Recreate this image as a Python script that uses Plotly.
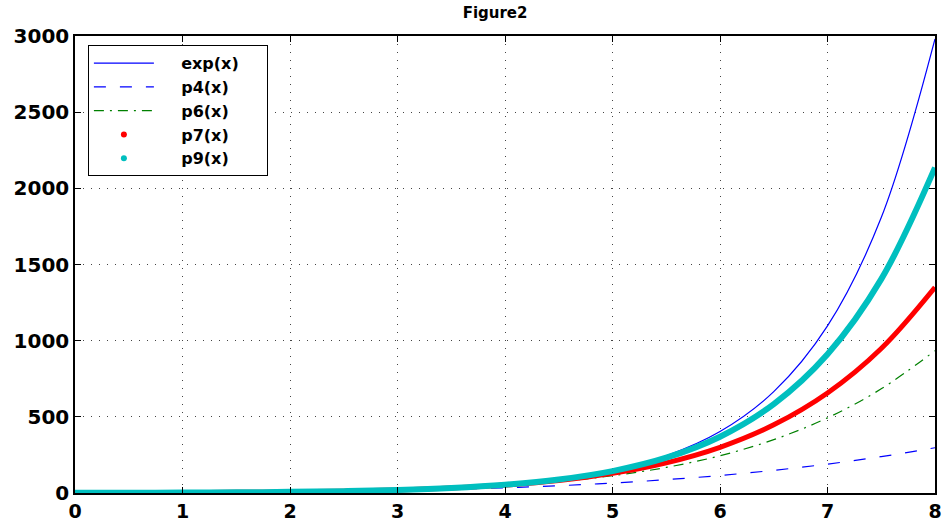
import plotly.graph_objects as go

x_vals = [0, 0.5, 1, 1.5, 2, 2.5, 3, 3.5, 4, 4.5, 5, 5.5, 6, 6.5, 7, 7.5, 8]
exp_vals = [1, 1.65, 2.72, 4.48, 7.39, 12.2, 20.1, 33.1, 54.6, 90.0, 148.4, 244.7, 403.4, 665.1, 1096.6, 1808.0, 2981.0]
p4_vals = [1, 1.65, 2.71, 4.40, 7.0, 10.86, 16.4, 24.0, 34.3, 47.9, 65.4, 87.5, 115.0, 148.8, 189.7, 238.8, 297.0]
p6_vals = [1, 1.65, 2.72, 4.48, 7.36, 12.0, 19.4, 30.9, 48.6, 74.8, 113.2, 167.9, 244.6, 350.2, 493.2, 683.7, 934.2]
p7_vals = [1, 1.65, 2.72, 4.48, 7.38, 12.1, 19.85, 32.2, 51.9, 82.2, 128.7, 198.1, 300.1, 447.5, 656.6, 948.6, 1350.3]
p9_vals = [1, 1.65, 2.72, 4.48, 7.39, 12.2, 20.07, 33.0, 54.2, 88.5, 143.8, 231.6, 369.5, 583.6, 910.8, 1403.8, 2136.0]

x_ticks = [0, 1, 2, 3, 4, 5, 6, 7, 8]
y_ticks = [0, 500, 1000, 1500, 2000, 2500, 3000]
legend_names = ["exp(x)", "p4(x)", "p6(x)", "p7(x)", "p9(x)"]

FONT = "DejaVu Sans, Liberation Sans, Arial, sans-serif"
PAD = "\u00a0" * 4
TAIL = "\u00a0" * 4

fig = go.Figure()
fig.add_trace(go.Scatter(x=x_vals, y=exp_vals, mode="lines", name=PAD + legend_names[0] + TAIL,
                         line=dict(color="#0000ff", width=1.2, shape="spline")))
fig.add_trace(go.Scatter(x=x_vals, y=p4_vals, mode="lines", name=PAD + legend_names[1] + TAIL,
                         line=dict(color="#0000ff", width=1.2, dash="12px,14px", shape="spline")))
fig.add_trace(go.Scatter(x=x_vals, y=p6_vals, mode="lines", name=PAD + legend_names[2] + TAIL,
                         line=dict(color="#008000", width=1.2, dash="10px,6px,2px,6px", shape="spline")))
fig.add_trace(go.Scatter(x=x_vals, y=p7_vals, mode="lines", showlegend=False,
                         line=dict(color="#ff0000", width=5, shape="spline")))
fig.add_trace(go.Scatter(x=x_vals, y=p9_vals, mode="lines", showlegend=False,
                         line=dict(color="#00bfbf", width=6, shape="spline")))
fig.add_trace(go.Scatter(x=[None], y=[None], mode="markers", name=PAD + legend_names[3] + TAIL,
                         marker=dict(color="#ff0000", size=6)))
fig.add_trace(go.Scatter(x=[None], y=[None], mode="markers", name=PAD + legend_names[4] + TAIL,
                         marker=dict(color="#00bfbf", size=6)))

axis_common = dict(
    showline=True, linecolor="black", linewidth=1.5, mirror="ticks",
    ticks="inside", ticklen=6, tickcolor="black", tickwidth=1,
    showgrid=True, gridcolor="#444444", griddash="1px,7px", gridwidth=1,
    zeroline=False, automargin=False,
)

fig.update_layout(
    width=943, height=521,
    paper_bgcolor="white", plot_bgcolor="white",
    margin=dict(l=75, r=8, t=36, b=28, pad=0, autoexpand=False),
    title=dict(text="<b>Figure2</b>", x=0.525, xanchor="center", y=0.975, yanchor="middle",
               font=dict(family=FONT, size=15, color="black")),
    xaxis=dict(range=[0, 8], tickvals=x_ticks, ticktext=[str(v) for v in x_ticks],
               tickfont=dict(family=FONT, size=19, color="black", weight="bold"), **axis_common),
    yaxis=dict(range=[0, 3000], tickvals=y_ticks, ticktext=[str(v) for v in y_ticks],
               tickfont=dict(family=FONT, size=20, color="black", weight="bold"), **axis_common),
    legend=dict(x=0.015, y=0.98, xanchor="left", yanchor="top",
                bgcolor="white", bordercolor="black", borderwidth=1,
                font=dict(family=FONT, size=16, color="black", weight="bold"),
                tracegroupgap=0, itemwidth=60),
    showlegend=True,
)

fig.write_html("out.html", config={"displayModeBar": False},
               post_script="document.body.style.margin='0px';document.body.style.overflow='hidden';")
